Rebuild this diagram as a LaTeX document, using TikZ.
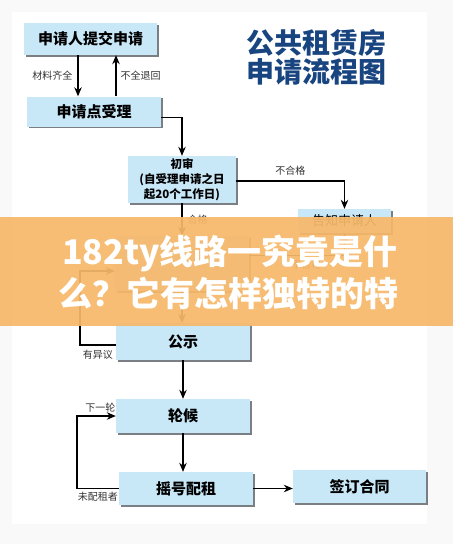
\documentclass[tikz,border=0pt]{standalone}
\usepackage{fontspec}
\newfontfamily\cjk{Noto Sans CJK SC}
\usetikzlibrary{arrows.meta,shadows}

\definecolor{boxblue}{RGB}{200,232,248}
\definecolor{shadowgray}{RGB}{100,104,110}
\definecolor{titleblue}{RGB}{24,68,128}
\definecolor{adorange}{RGB}{247,184,106}

\begin{document}
\begin{tikzpicture}[x=1pt, y=-1pt,
  box/.style={fill=boxblue, drop shadow={shadow xshift=1.6pt, shadow yshift=-1.6pt, fill=shadowgray, opacity=0.85},
    minimum width=134pt, minimum height=32pt, inner sep=0pt, font=\cjk\bfseries\fontsize{15}{18}\selectfont},
  arr/.style={-{Stealth[length=9pt,width=7.5pt]}, line width=1.2pt},
  lbl/.style={font=\cjk\fontsize{10}{12}\selectfont, text=black!80, inner sep=2pt},
  adtext/.style={font=\cjk\bfseries\fontsize{34}{40}\selectfont, text=white, inner sep=0pt}]

\useasboundingbox (0,0) rectangle (453,544);

% Background
\fill[gray!5] (0,0) rectangle (453,544);
\fill[white] (12,12) rectangle (427,524);

% Title
\node[font=\cjk\bfseries\fontsize{28}{29}\selectfont, text=titleblue, align=center] (title) at (316.5,57.5) {公共租赁房\\申请流程图};

% Boxes
\node[box, minimum width=133pt] (tijiao) at (90.5,39) {申请人提交申请};
\node[box, minimum height=30pt] (shouli) at (94,111.5) {申请点受理};
\node[box, minimum width=108pt, minimum height=47pt, align=center,
  font=\cjk\bfseries\fontsize{11.5}{15}\selectfont] (chushen) at (182,179.5) {初审\\(自受理申请之日\\起20个工作日)};
\node[box, minimum width=93pt, minimum height=24pt, font=\cjk\fontsize{13}{15}\selectfont] (gaozhi) at (344.5,221) {告知申请人};
\node[box, minimum height=55pt] (fushen) at (182,263.5) {};
\node[box, minimum height=37pt] (gongshi) at (183,341.5) {公示};
\node[box, minimum height=34pt] (lunhou) at (183,416) {轮候};
\node[box, minimum height=33pt] (yaohao) at (186,488.5) {摇号配租};
\node[box, minimum width=133pt, minimum height=33pt] (hetong) at (359.5,486.5) {签订合同};

% Helper columns
\coordinate (colA) at (78,0);
\coordinate (colB) at (116,0);
\coordinate (yiyi) at (80,271);
\coordinate (xia) at (77,0);

% Connectors
\draw[arr] (tijiao.south -| colA) -- node[lbl, left=3pt] {材料齐全} (shouli.north -| colA);
\draw[arr] (shouli.north -| colB) -- node[lbl, right=2pt] {不全退回} (tijiao.south -| colB);
\draw[arr] ([yshift=-6pt]shouli.east) -| (chushen.north);
\draw[arr] ([yshift=-1.5pt]chushen.east) -| node[lbl, pos=0.25, above=3pt] {不合格} (gaozhi.north);
\draw[arr] (chushen.south) -- node[lbl, right=3pt] {合格} (fushen.north);
\draw[arr] ([yshift=8pt]fushen.east) -| node[lbl, pos=0.3, below=2pt] {不合格} (gaozhi.south);
\draw[arr] (fushen.south) -- (fushen.south |- gongshi.north);
\draw[arr] ([yshift=-3.5pt]gongshi.west) -| node[lbl, pos=0.25, below=2pt] {有异议} (yiyi) -- (yiyi -| fushen.west);
\draw[arr] (gongshi.south) -- (gongshi.south |- lunhou.north);
\draw[arr] (lunhou.south) -- (lunhou.south |- yaohao.north);
\draw[arr] (yaohao.west) -- node[lbl, below=1pt] {未配租者} (yaohao.west -| xia) |- node[lbl, pos=0.8, above=1pt] {下一轮} (lunhou.west);
\draw[arr] (yaohao.east) -- (yaohao.east -| hetong.west);

% Banner
\fill[adorange, fill opacity=0.93] (0,217) rectangle (453,326);
\node[adtext, anchor=west] (ad1) at (62,253) {182ty线路一究竟是什};
\node[adtext, anchor=west] (ad2) at (58,293) {么？它有怎样独特的特};

\end{tikzpicture}
\end{document}
